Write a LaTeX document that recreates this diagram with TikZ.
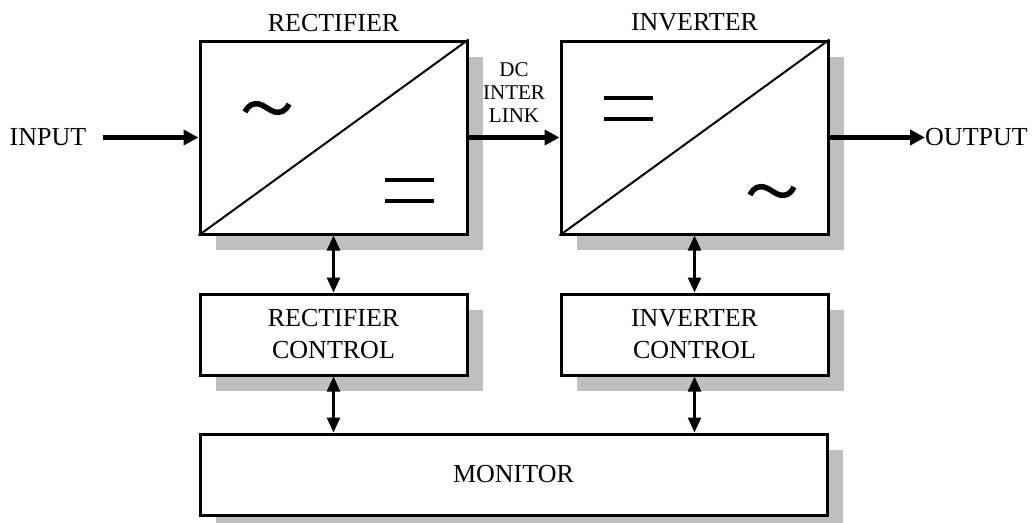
\documentclass[tikz,border=0pt]{standalone}
\usepackage{fontspec}
\setmainfont{Liberation Serif}
\usepackage{tikz}
\usetikzlibrary{arrows.meta, positioning, shadows}

\definecolor{shadowgray}{gray}{0.75}

\tikzset{
  block/.style={draw, line width=3pt, fill=white, minimum width=267pt, inner sep=0pt,
    drop shadow={shadow xshift=16pt, shadow yshift=-16pt, fill=shadowgray, opacity=1},
    font=\fontsize{26}{32}\selectfont, align=center},
  txt/.style={font=\fontsize{26}{30}\selectfont, inner sep=0pt},
  flow/.style={line width=5pt, -{Triangle[length=15pt,width=15pt]}},
  link/.style={line width=2.5pt, {Triangle[length=15pt,width=13pt]}-{Triangle[length=15pt,width=13pt]}},
  acwave/.style={line width=5.5pt},
}

\begin{document}
\begin{tikzpicture}[x=1pt, y=-1pt]
\clip (0,0) rectangle (1032,522);

% Rectifier and inverter
\node[block, minimum height=193pt] (rect) at (333.5,137.5) {};
\node[block, minimum height=193pt] (inv) at (694.5,137.5) {};
\draw[line width=2pt] (rect.south west) -- (rect.north east);
\draw[line width=2pt] (inv.south west) -- (inv.north east);
\node[txt, above=8pt of rect] (recttitle) {RECTIFIER};
\node[txt, above=8pt of inv] (invtitle) {INVERTER};

% AC and DC signs
\foreach \cx/\cy in {267/108, 772/191} {
    \draw[acwave, shift={(\cx,\cy)}] (-22,4) .. controls (-18,-4) and (-13,-5) .. (-8,-4)
        .. controls (-3,-3) and (3,3) .. (8,4) .. controls (13,5) and (18,4) .. (22,-4);
}
\foreach \y in {180,201} {
    \draw[line width=4pt] (385,\y) -- (434,\y);
}
\foreach \y in {98,119} {
    \draw[line width=4pt] (604,\y) -- (653,\y);
}

% Control and monitor
\node[block, minimum height=81pt] (rectctl) at (333.5,334.5) {RECTIFIER\\CONTROL};
\node[block, minimum height=81pt] (invctl) at (694.5,334.5) {INVERTER\\CONTROL};
\node[block, minimum width=627pt, minimum height=81pt] (monitor) at (513.5,474.5) {MONITOR};

% Power path
\node[txt] (input) at (48,137.5) {INPUT};
\node[txt, anchor=west] (output) at (925,137.5) {OUTPUT};
\node[txt, font=\fontsize{21}{23}\selectfont, align=center] (dclink) at (514,93) {DC\\INTER\\LINK};
\draw[flow] ([xshift=17pt]input.east) -- (rect.west);
\draw[flow] (rect.east) -- (inv.west);
\draw[flow] (inv.east) -- (output.west);

% Control links
\draw[link] (rect) -- (rectctl);
\draw[link] (inv) -- (invctl);
\draw[link] (rectctl.south) -- (rectctl.south |- monitor.north);
\draw[link] (invctl.south) -- (invctl.south |- monitor.north);
\end{tikzpicture}
\end{document}
